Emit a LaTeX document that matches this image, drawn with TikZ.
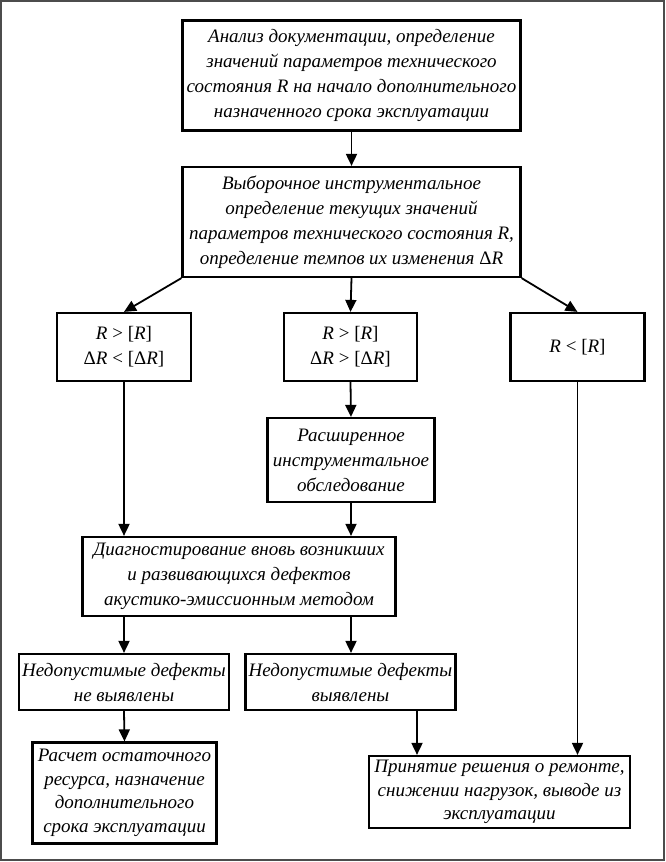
\documentclass[tikz,border=0pt]{standalone}
\usepackage{fontspec}
\setmainfont{Liberation Serif}
\usetikzlibrary{arrows.meta,calc}
\begin{document}
\begin{tikzpicture}[x=1pt,y=-1pt,
  box/.style={draw=black, line width=2.2pt, align=center, inner sep=2pt,
    font=\itshape\fontsize{19}{25}\selectfont},
  tbox/.style={box, font=\itshape\fontsize{19}{23.5}\selectfont},
  mbox/.style={draw=black, line width=2.2pt, align=center, inner sep=2pt,
    font=\upshape\fontsize{19}{25}\selectfont},
  arr/.style={line width=1.8pt, -{Triangle[length=12pt,width=11pt]}},
]
\useasboundingbox (0,0) rectangle (666,862);
\draw[line width=1.8pt, draw=black!70] (1,1) rectangle (664,860);

\node[box, minimum width=338, minimum height=110] (b1) at (351.5,75.5)
  {Анализ документации, определение\\значений параметров технического\\состояния R на начало дополнительного\\назначенного срока эксплуатации};
\node[box, minimum width=338, minimum height=110] (b2) at (351.5,222)
  {Выборочное инструментальное\\определение текущих значений\\параметров технического состояния R,\\определение темпов их изменения {\upshape Δ}R};
\node[mbox, minimum width=134, minimum height=68] (b3a) at (124,347)
  {\textit{R} > [\textit{R}]\\Δ\textit{R} < [Δ\textit{R}]};
\node[mbox, minimum width=133, minimum height=68] (b3b) at (350.5,347)
  {\textit{R} > [\textit{R}]\\Δ\textit{R} > [Δ\textit{R}]};
\node[mbox, minimum width=134, minimum height=68] (b3c) at (577.5,347)
  {\textit{R} < [\textit{R}]};
\node[box, minimum width=167, minimum height=84] (b4) at (351,460)
  {Расширенное\\инструментальное\\обследование};
\node[box, minimum width=313, minimum height=79] (b5) at (239,576.5)
  {Диагностирование вновь возникших\\и развивающихся дефектов\\акустико-эмиссионным методом};
\node[box, minimum width=210, minimum height=56] (b6a) at (124,682)
  {Недопустимые дефекты\\не выявлены};
\node[box, minimum width=210, minimum height=56] (b6b) at (350.5,682)
  {Недопустимые дефекты\\выявлены};
\node[tbox, minimum width=184, minimum height=101] (b7a) at (124.5,793)
  {Расчет остаточного\\ресурса, назначение\\дополнительного\\срока эксплуатации};
\node[tbox, minimum width=261, minimum height=72] (b7b) at (499.5,792)
  {Принятие решения о ремонте,\\снижении нагрузок, выводе из\\эксплуатации};

\coordinate (c1) at (417,700);
\coordinate (c2) at (351,600);

\draw[arr] (b1.south) -- (b2.north);
\draw[arr] (b2.south west) -- (b3a.north);
\draw[arr] (b2.south) -- (b3b.north);
\draw[arr] (b2.south east) -- (b3c.north);
\draw[arr] (b3b.south) -- (b4.north);
\draw[arr] (b3a.south) -- (b3a.south |- b5.north);
\draw[arr] (b4.south) -- (b4.south |- b5.north);
\draw[arr] (b6a.north |- b5.south) -- (b6a.north);
\draw[arr] (c2 |- b5.south) -- (c2 |- b6b.north);
\draw[arr] (b6a.south) -- (b7a.north);
\draw[arr] (c1 |- b6b.south) -- (c1 |- b7b.north);
\draw[arr] (b3c.south) -- (b3c.south |- b7b.north);
\end{tikzpicture}
\end{document}
